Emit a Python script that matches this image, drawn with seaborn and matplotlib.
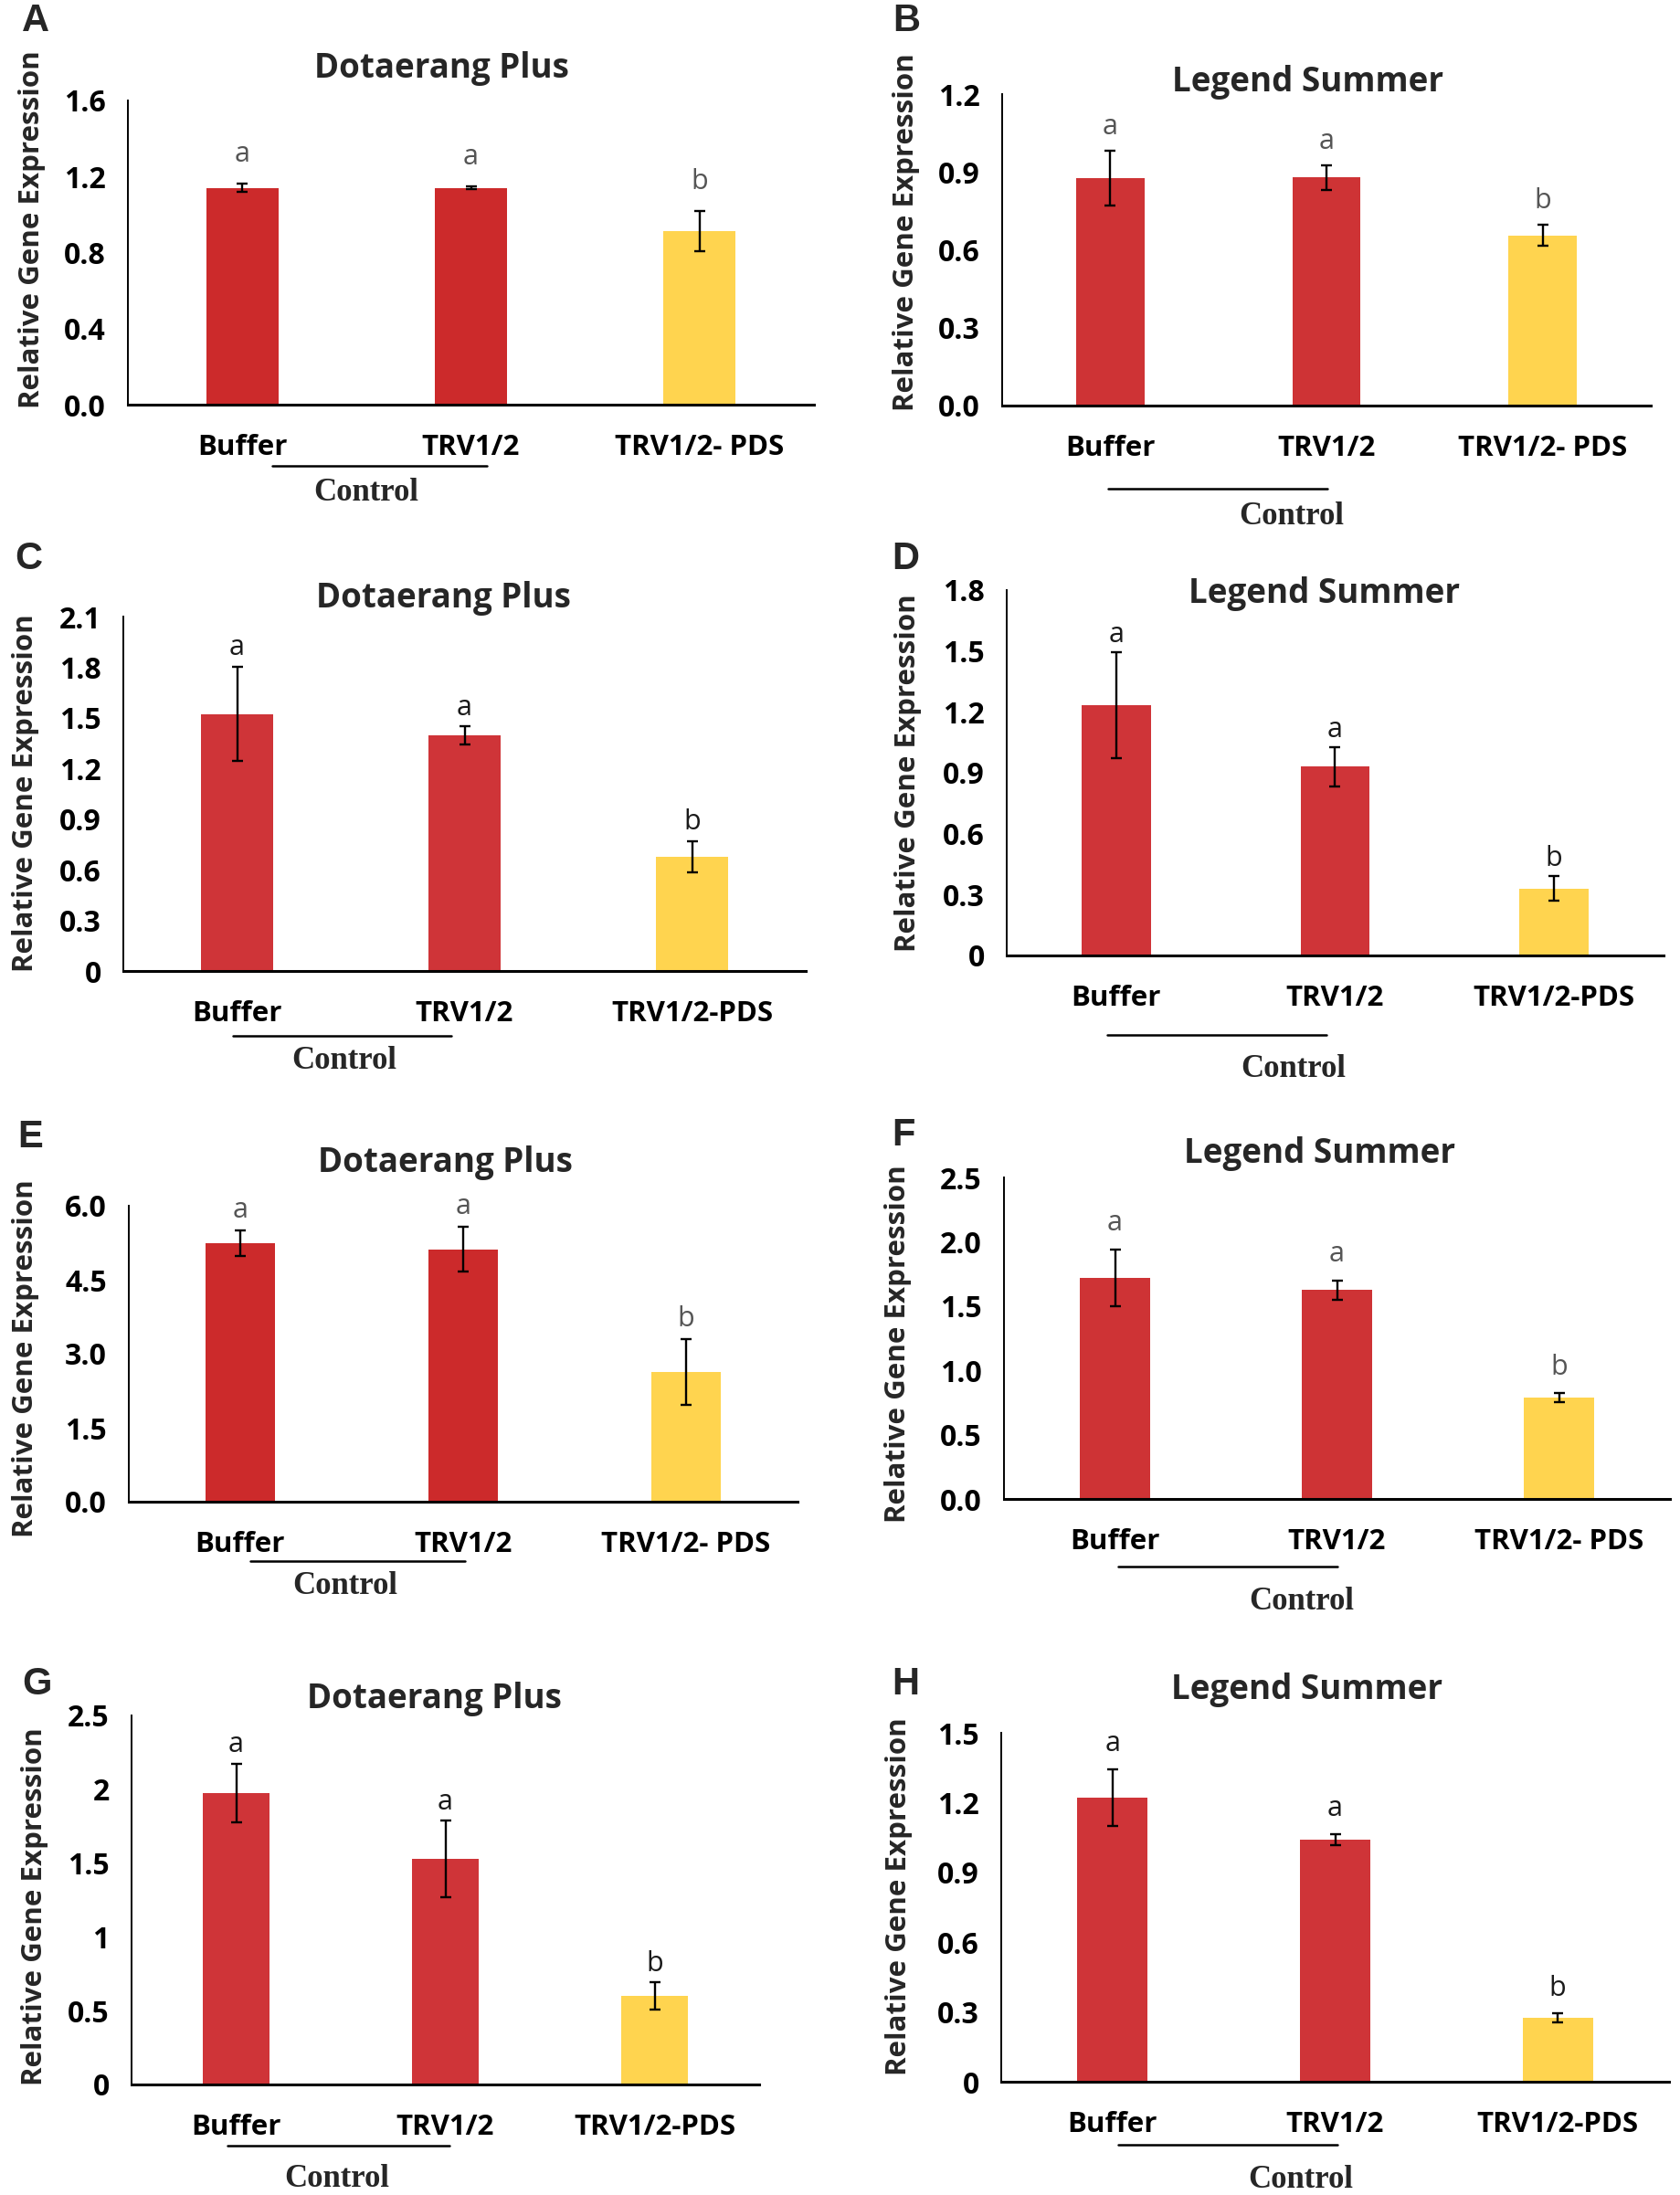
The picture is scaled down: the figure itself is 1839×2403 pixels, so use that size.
import numpy as np
import matplotlib.pyplot as plt
import matplotlib.transforms as mtrans
import seaborn as sns

W, H = 1839, 2403

# --- veriler ---
panels = ["A", "B", "C", "D", "E", "F", "G", "H"]
titles = ["Dotaerang Plus", "Legend Summer"] * 4
letters = ["a", "a", "b"]

cats_dash = ["Buffer", "TRV1/2", "TRV1/2- PDS"]
cats_plain = ["Buffer", "TRV1/2", "TRV1/2-PDS"]

expr_A = [1.141, 1.141, 0.912]
err_A = [0.022, 0.008, 0.107]
expr_B = [0.876, 0.879, 0.656]
err_B = [0.107, 0.048, 0.041]
expr_C = [1.523, 1.396, 0.676]
err_C = [0.280, 0.054, 0.094]
expr_D = [1.232, 0.930, 0.330]
err_D = [0.262, 0.097, 0.060]
expr_E = [5.247, 5.120, 2.634]
err_E = [0.260, 0.450, 0.670]
expr_F = [1.717, 1.625, 0.788]
err_F = [0.220, 0.075, 0.033]
expr_G = [1.974, 1.526, 0.600]
err_G = [0.200, 0.260, 0.090]
expr_H = [1.222, 1.042, 0.274]
err_H = [0.122, 0.024, 0.020]

yt_A = [0, 0.4, 0.8, 1.2, 1.6]
ytl_A = ["0.0", "0.4", "0.8", "1.2", "1.6"]
yt_B = [0, 0.3, 0.6, 0.9, 1.2]
ytl_B = ["0.0", "0.3", "0.6", "0.9", "1.2"]
yt_C = [0, 0.3, 0.6, 0.9, 1.2, 1.5, 1.8, 2.1]
ytl_C = ["0", "0.3", "0.6", "0.9", "1.2", "1.5", "1.8", "2.1"]
yt_D = [0, 0.3, 0.6, 0.9, 1.2, 1.5, 1.8]
ytl_D = ["0", "0.3", "0.6", "0.9", "1.2", "1.5", "1.8"]
yt_E = [0, 1.5, 3.0, 4.5, 6.0]
ytl_E = ["0.0", "1.5", "3.0", "4.5", "6.0"]
yt_F = [0, 0.5, 1.0, 1.5, 2.0, 2.5]
ytl_F = ["0.0", "0.5", "1.0", "1.5", "2.0", "2.5"]
yt_G = [0, 0.5, 1, 1.5, 2, 2.5]
ytl_G = ["0", "0.5", "1", "1.5", "2", "2.5"]
yt_H = [0, 0.3, 0.6, 0.9, 1.2, 1.5]
ytl_H = ["0", "0.3", "0.6", "0.9", "1.2", "1.5"]

data = {
    "A": (cats_dash, expr_A, err_A, yt_A, ytl_A),
    "B": (cats_dash, expr_B, err_B, yt_B, ytl_B),
    "C": (cats_plain, expr_C, err_C, yt_C, ytl_C),
    "D": (cats_plain, expr_D, err_D, yt_D, ytl_D),
    "E": (cats_dash, expr_E, err_E, yt_E, ytl_E),
    "F": (cats_dash, expr_F, err_F, yt_F, ytl_F),
    "G": (cats_plain, expr_G, err_G, yt_G, ytl_G),
    "H": (cats_plain, expr_H, err_H, yt_H, ytl_H),
}

# --- yerlesim (piksel) ---
# box: sol, sag, ust, alt ; title: x, baseline ; ylab: x, y ; tag: x, baseline
# pad: harf boslugu (pt) ; line: x0, x1 (veri), y px ; ctrl: x (veri), baseline px
layout = {
    "A": dict(box=(140, 891, 110, 443), title=(483, 85), ylab=(35, 251), tag=(24, 34),
              pad=17, line=(0.13, 1.07, 510), ctrl=(0.54, 548), red="#CC2A2B", lc="#555555"),
    "B": dict(box=(1097, 1807, 103, 444), title=(1432, 100), ylab=(992, 254), tag=(977, 34),
              pad=13, line=(-0.01, 1.005, 535), ctrl=(0.84, 574), red="#CE3335", lc="#555555"),
    "C": dict(box=(135, 882, 675, 1063), title=(485, 665), ylab=(28, 868), tag=(16, 623),
              pad=9, line=(-0.02, 0.94, 1134), ctrl=(0.47, 1170), red="#CF3438", lc="#1a1a1a"),
    "D": dict(box=(1102, 1821, 646, 1046), title=(1450, 660), ylab=(994, 846), tag=(976, 623),
              pad=8, line=(-0.04, 0.96, 1133), ctrl=(0.81, 1179), red="#CF3438", lc="#1a1a1a"),
    "E": dict(box=(141, 873, 1320, 1644), title=(487, 1283), ylab=(28, 1487), tag=(19, 1256),
              pad=10, line=(0.045, 1.01, 1709), ctrl=(0.47, 1745), red="#CC2A2B", lc="#555555"),
    "F": dict(box=(1099, 1828, 1289, 1641), title=(1445, 1273), ylab=(983, 1471), tag=(976, 1254),
              pad=15, line=(0.014, 1.0, 1715), ctrl=(0.84, 1762), red="#CE3335", lc="#555555"),
    "G": dict(box=(144, 831, 1878, 2282), title=(475, 1870), ylab=(38, 2087), tag=(24, 1855),
              pad=9, line=(-0.04, 1.02, 2349), ctrl=(0.48, 2394), red="#CF3438", lc="#1a1a1a"),
    "H": dict(box=(1096, 1827, 1897, 2279), title=(1431, 1860), ylab=(984, 2076), tag=(976, 1855),
              pad=14, line=(0.025, 1.01, 2348), ctrl=(0.845, 2395), red="#CF3438", lc="#1a1a1a"),
}
yellow = "#FFD44F"

sns.set_style("white")
plt.rcParams["font.family"] = ["Open Sans", "DejaVu Sans"]

fig = plt.figure(figsize=(W / 100, H / 100), dpi=100)

for i, key in enumerate(panels):
    cats, vals, errs, ticks, ticklabels = data[key]
    L = layout[key]
    l, r, t, b = L["box"]
    ax = fig.add_axes([l / W, 1 - b / H, (r - l) / W, (b - t) / H])

    sns.barplot(x=cats, y=vals, hue=cats, palette=[L["red"], L["red"], yellow],
                width=0.315, saturation=1, linewidth=0, legend=False, ax=ax)
    ax.errorbar(range(3), vals, yerr=errs, fmt="none", ecolor="black",
                elinewidth=1.7, capsize=4.5, capthick=1.7, zorder=3)

    ax.set_xlim(-0.5, 2.5)
    ax.set_ylim(0, ticks[-1])
    ax.set_yticks(ticks)
    ax.set_yticklabels(ticklabels)
    sns.despine(ax=ax)
    ax.spines["left"].set_linewidth(1.4)
    ax.spines["bottom"].set_linewidth(2.2)
    ax.spines["left"].set_color("black")
    ax.spines["bottom"].set_color("black")
    ax.tick_params(axis="y", length=10.5, width=1.4, pad=7, labelsize=23, color="black")
    ax.tick_params(axis="x", length=0, pad=23, labelsize=22.5)
    for lab in ax.get_xticklabels() + ax.get_yticklabels():
        lab.set_fontweight("bold")
        lab.set_color("black")

    # harfler (a / b)
    for j, (v, e, s) in enumerate(zip(vals, errs, letters)):
        ax.annotate(s, (j, v + e), xytext=(0, L["pad"]), textcoords="offset points",
                    ha="center", va="baseline", fontsize=22, color=L["lc"])

    # Control cizgisi ve yazisi
    blend = mtrans.blended_transform_factory(ax.transData, fig.transFigure)
    x0, x1, ly = L["line"]
    ax.plot([x0, x1], [1 - ly / H, 1 - ly / H], color="black", lw=1.8,
            transform=blend, clip_on=False)
    cx, cy = L["ctrl"]
    ax.text(cx, 1 - cy / H, "Control", transform=blend, ha="center", va="baseline",
            fontsize=25, fontweight="bold", family=["Liberation Serif", "DejaVu Serif"])

    # basliklar ve eksen yazilari
    tx, ty = L["title"]
    fig.text(tx / W, 1 - ty / H, titles[i], ha="center", va="baseline",
             fontsize=26.5, fontweight="bold")
    yx, yy = L["ylab"]
    fig.text(yx / W, 1 - yy / H, "Relative Gene Expression", rotation=90,
             ha="center", va="center", fontsize=22.5, fontweight="bold")
    gx, gy = L["tag"]
    fig.text(gx / W, 1 - gy / H, key, ha="left", va="baseline", fontsize=30,
             fontweight="bold", family=["Liberation Sans", "DejaVu Sans"])

fig.savefig("out.png", dpi=100, facecolor="white")
